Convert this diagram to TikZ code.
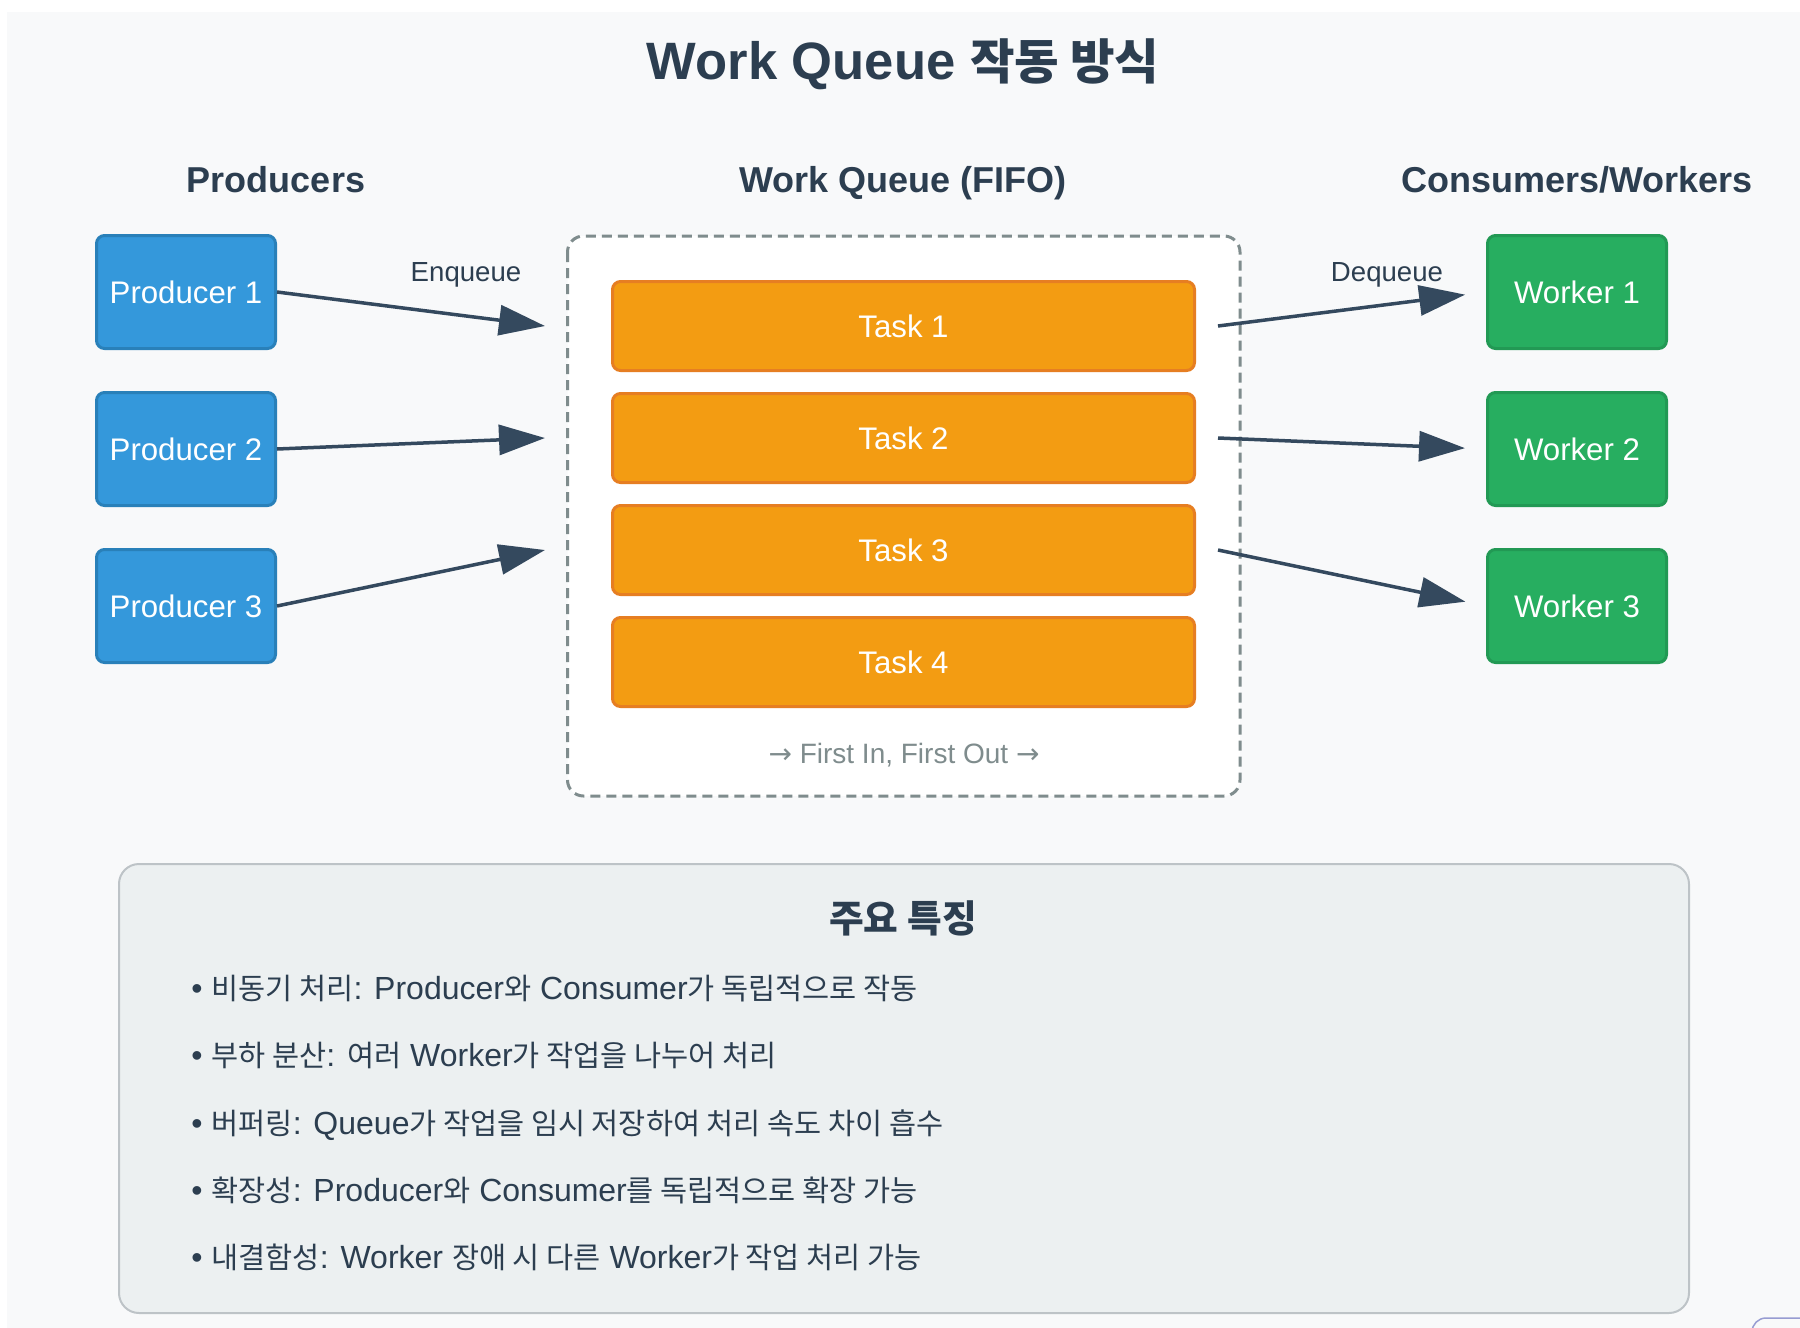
\documentclass[tikz,border=0pt]{standalone}
\usepackage{fontspec}
\setmainfont{Liberation Sans}
\newfontfamily\krfont{Noto Sans CJK KR}[Scale=0.92]
\newfontfamily\symfont{DejaVu Sans}
\newcommand{\kor}[1]{{\krfont #1}}
\usetikzlibrary{arrows.meta}
\definecolor{pagebg}{HTML}{F8F9FA}
\definecolor{textdark}{HTML}{2C3E50}
\definecolor{arrowdark}{HTML}{34495E}
\definecolor{producerblue}{HTML}{3498DB}
\definecolor{producerline}{HTML}{2980B9}
\definecolor{taskorange}{HTML}{F39C12}
\definecolor{taskline}{HTML}{E67E22}
\definecolor{workergreen}{HTML}{27AE60}
\definecolor{workerline}{HTML}{229954}
\definecolor{framegray}{HTML}{7F8C8D}
\definecolor{panelfill}{HTML}{ECF0F1}
\definecolor{panelline}{HTML}{BDC3C7}
\tikzset{
	% ------- every something
	every node/.style={
		text=textdark,
		inner sep=0pt,
	},
	% ------- custom
	box/.style={
		line width=1.5pt,
		rounded corners=4pt,
		text=white,
		font=\fontsize{15.6}{18}\selectfont,
		text height=11.1pt,
		text depth=0pt,
	},
	producer/.style={
		box,
		draw=producerline,
		fill=producerblue,
		minimum width=89.5pt,
		minimum height=56.5pt,
	},
	worker/.style={
		box,
		draw=workerline,
		fill=workergreen,
		minimum width=89.5pt,
		minimum height=56.5pt,
	},
	task/.style={
		box,
		draw=taskline,
		fill=taskorange,
		minimum width=291pt,
		minimum height=44.5pt,
	},
	flow/.style={
		draw=arrowdark,
		line width=1.75pt,
		-{Triangle[length=23pt,width=15pt]},
	},
	main title/.style={
		anchor=base,
		font=\fontsize{26.3}{31}\selectfont\bfseries,
	},
	column head/.style={
		anchor=base,
		font=\fontsize{18}{22}\selectfont\bfseries,
	},
	panel head/.style={
		anchor=base,
		font=\fontsize{20.5}{24}\selectfont\bfseries,
	},
	flow text/.style={
		anchor=base,
		font=\fontsize{13.8}{16}\selectfont,
	},
	fifo note/.style={
		anchor=base,
		text=framegray,
		font=\fontsize{14}{16}\selectfont,
	},
	queue frame/.style={
		draw=framegray,
		fill=white,
		line width=1.5pt,
		dash pattern=on 5pt off 3pt,
		rounded corners=8pt,
	},
	panel/.style={
		draw=panelline,
		fill=panelfill,
		line width=1pt,
		rounded corners=10pt,
	},
	feature/.style={
		anchor=base west,
		font=\fontsize{16}{19}\selectfont,
	},
}

\begin{document}
\begin{tikzpicture}[x=0.5pt,y=-0.5pt]

% background %{{{1

	\useasboundingbox[fill=white] (0,0) rectangle (1800,1328);
	\fill[pagebg] (7,12) rectangle (1800,1328);
	\draw[draw=panelline!80!blue, line width=0.75pt, rounded corners=7pt] (1752,1318) rectangle (1860,1380);

% titles %{{{1

	\node[main title] (title) at (903,79) {Work Queue \kor{작동 방식}};
	\node[column head] (prodhead) at (276,192) {Producers};
	\node[column head] (queuehead) at (903,192) {Work Queue (FIFO)};
	\node[column head] (workhead) at (1577,192) {Consumers/Workers};

% queue %{{{1

	\draw[queue frame] (567.5,236) rectangle (1240,796);

	\node[task] (t1) at (903.5,326) {Task 1};
	\node[task] (t2) at (903.5,438) {Task 2};
	\node[task] (t3) at (903.5,550) {Task 3};
	\node[task] (t4) at (903.5,662) {Task 4};

	\node[fifo note] (fifo) at (904,763) {{\symfont →} First In, First Out {\symfont →}};

% producers and workers %{{{1

	\node[producer] (p1) at (186,292) {Producer 1};
	\node[producer] (p2) at (186,449) {Producer 2};
	\node[producer] (p3) at (186,606) {Producer 3};

	\node[worker] (w1) at (1577,292) {Worker 1};
	\node[worker] (w2) at (1577,449) {Worker 2};
	\node[worker] (w3) at (1577,606) {Worker 3};

% arrows %{{{1

	\coordinate (in1) at (545,326);
	\coordinate (in2) at (545,438);
	\coordinate (in3) at (545,550);
	\coordinate (out1) at (1218,326);
	\coordinate (out2) at (1218,438);
	\coordinate (out3) at (1218,550);

	\draw[flow] (p1.east) -- (in1);
	\draw[flow] (p2.east) -- (in2);
	\draw[flow] (p3.east) -- (in3);

	\draw[flow, shorten >=10.5pt] (out1) -- (w1.west);
	\draw[flow, shorten >=10.5pt] (out2) -- (w2.west);
	\draw[flow, shorten >=10.5pt] (out3) -- (w3.west);

	\node[flow text] (enq) at (466,281) {Enqueue};
	\node[flow text] (deq) at (1387,281) {Dequeue};

% features panel %{{{1

	\draw[panel] (119,864) rectangle (1689,1313);

	\node[panel head] (feathead) at (903,932) {\kor{주요 특징}};

	\node[feature] (f1) at (191,999) {• \kor{비동기 처리}: Producer\kor{와} Consumer\kor{가 독립적으로 작동}};
	\node[feature] (f2) at (191,1066) {• \kor{부하 분산}: \kor{여러} Worker\kor{가 작업을 나누어 처리}};
	\node[feature] (f3) at (191,1134) {• \kor{버퍼링}: Queue\kor{가 작업을 임시 저장하여 처리 속도 차이 흡수}};
	\node[feature] (f4) at (191,1201) {• \kor{확장성}: Producer\kor{와} Consumer\kor{를 독립적으로 확장 가능}};
	\node[feature] (f5) at (191,1268) {• \kor{내결함성}: Worker \kor{장애 시 다른} Worker\kor{가 작업 처리 가능}};

% closing %{{{1

\end{tikzpicture}
\end{document}
